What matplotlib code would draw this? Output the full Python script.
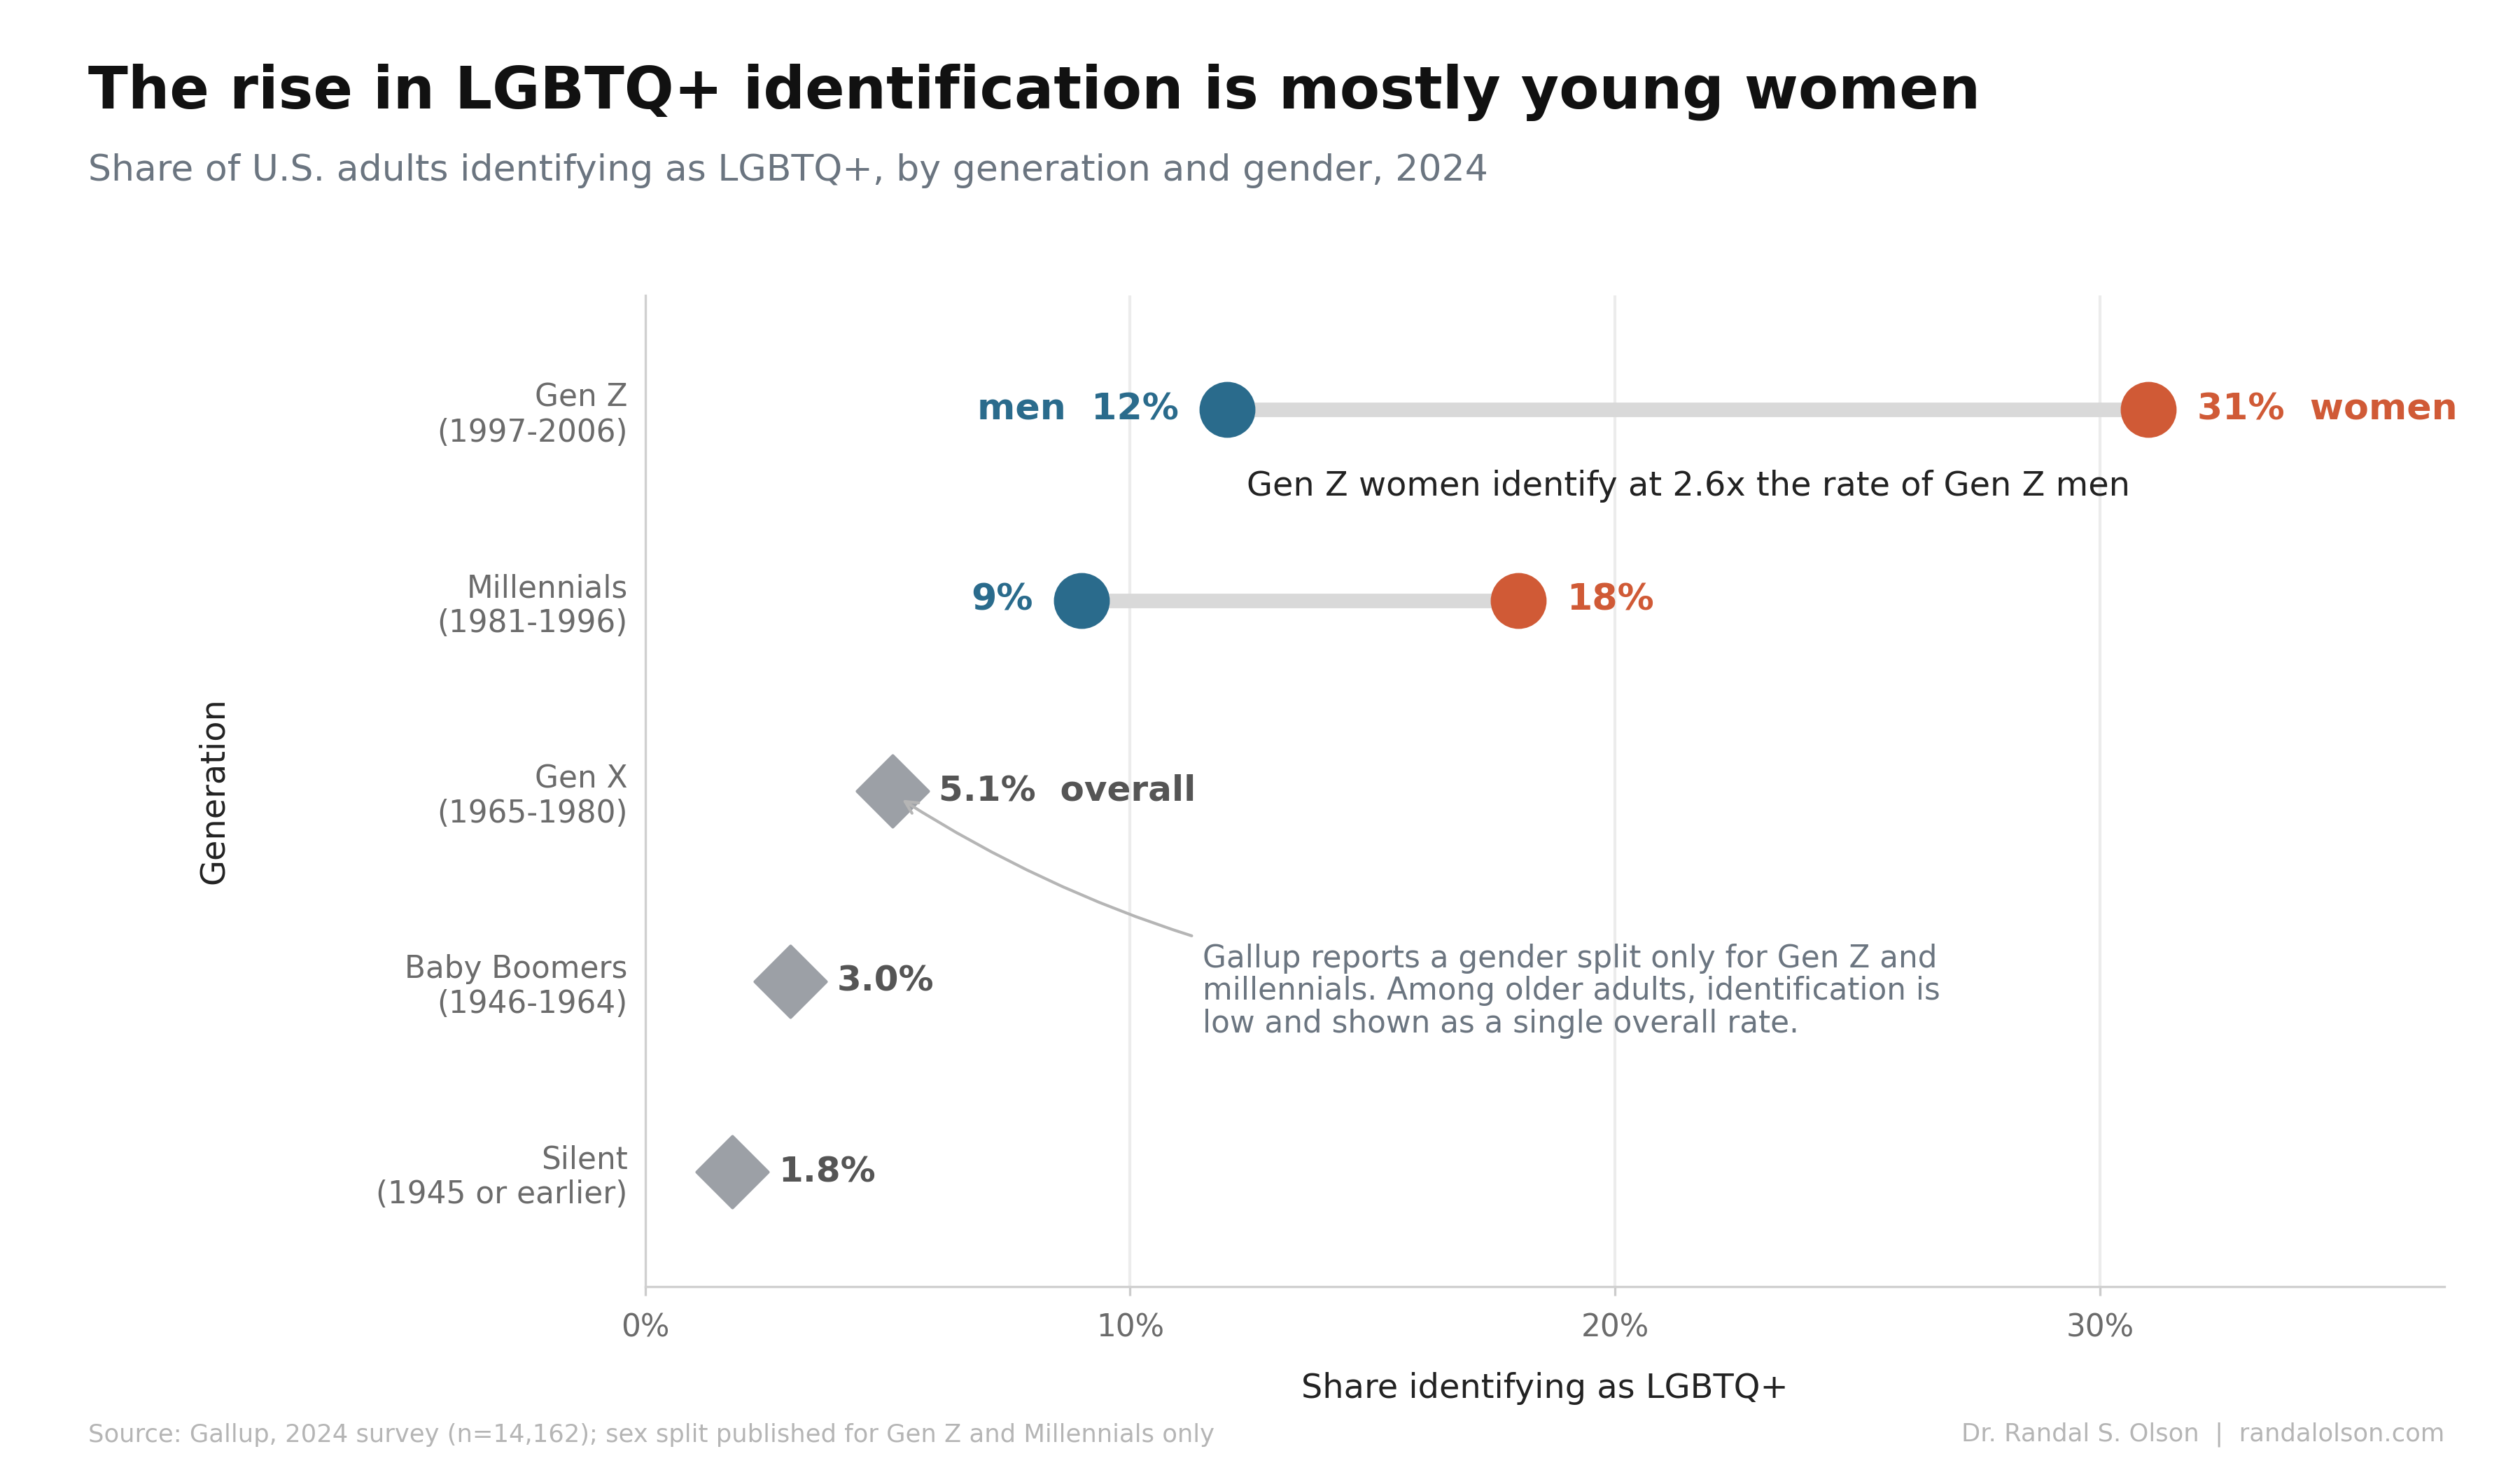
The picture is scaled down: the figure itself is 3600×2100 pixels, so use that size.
import matplotlib.pyplot as plt

plt.rcParams['font.family'] = 'DejaVu Sans'

generations = ["Gen Z\n(1997-2006)", "Millennials\n(1981-1996)", "Gen X\n(1965-1980)",
               "Baby Boomers\n(1946-1964)", "Silent\n(1945 or earlier)"]
men = [12, 9]
women = [31, 18]
overall_idx = [2, 3, 4]
overall = [5.1, 3.0, 1.8]

blue = '#2a6b8c'
orange = '#d05a36'
gray = '#9ca0a6'
dark = '#555555'

fig = plt.figure(figsize=(12, 7), dpi=300)
ax = fig.add_axes([0.256, 0.125, 0.714, 0.674])

for i, (m, w) in enumerate(zip(men, women)):
    ax.plot([m, w], [i, i], color='#d9d9d9', lw=5, zorder=1, solid_capstyle='butt')
    ax.scatter([m], [i], s=330, color=blue, zorder=3)
    ax.scatter([w], [i], s=330, color=orange, zorder=3)

ax.text(12 - 1.0, 0, "men  12%", color=blue, fontsize=12.5, fontweight='bold', ha='right', va='center')
ax.text(31 + 1.0, 0, "31%  women", color=orange, fontsize=12.5, fontweight='bold', ha='left', va='center')
ax.text(9 - 1.0, 1, "9%", color=blue, fontsize=12.5, fontweight='bold', ha='right', va='center')
ax.text(18 + 1.0, 1, "18%", color=orange, fontsize=12.5, fontweight='bold', ha='left', va='center')

ax.scatter(overall, overall_idx, s=300, marker='D', color=gray, zorder=3)
for k, (v, i) in enumerate(zip(overall, overall_idx)):
    lab = f"{v:.1f}%  overall" if k == 0 else f"{v:.1f}%"
    ax.text(v + 0.95, i, lab, color=dark, fontsize=12, fontweight='bold', ha='left', va='center')

ax.text(12.4, 0.4, "Gen Z women identify at 2.6x the rate of Gen Z men",
        fontsize=11.5, color='#222222', ha='left', va='center')

ax.annotate("Gallup reports a gender split only for Gen Z and\nmillennials. Among older adults, identification is\nlow and shown as a single overall rate.",
            xy=(5.2, 2.03), xytext=(11.5, 3.05), fontsize=10.5, color='#6b7580',
            ha='left', va='center', linespacing=1.1,
            arrowprops=dict(arrowstyle='->', color='#b5b5b5', lw=1,
                            connectionstyle='arc3,rad=-0.15', shrinkB=2))

ax.set_xlim(0, 37.1)
ax.set_ylim(4.6, -0.6)
ax.set_yticks(range(len(generations)))
ax.set_yticklabels(generations, fontsize=10.5, color='#6b6b6b')
ax.set_xticks([0, 10, 20, 30])
ax.set_xticklabels(["0%", "10%", "20%", "30%"], fontsize=10.5, color='#6b6b6b')
ax.tick_params(length=0, pad=6)
ax.tick_params(axis='x', length=3, color='#cccccc')
ax.grid(axis='x', color='#ececec', lw=1)
ax.set_axisbelow(True)
for s in ['top', 'right']:
    ax.spines[s].set_visible(False)
for s in ['left', 'bottom']:
    ax.spines[s].set_color('#d0d0d0')
ax.set_xlabel("Share identifying as LGBTQ+", fontsize=11.5, color='#222222', labelpad=10)
ax.set_ylabel("Generation", fontsize=11.5, color='#222222', labelpad=50)

fig.text(0.035, 0.937, "The rise in LGBTQ+ identification is mostly young women",
         fontsize=20, fontweight='bold', color='#111111', va='center')
fig.text(0.035, 0.884, "Share of U.S. adults identifying as LGBTQ+, by generation and gender, 2024",
         fontsize=12.5, color='#6b7580', va='center')
fig.text(0.035, 0.024, "Source: Gallup, 2024 survey (n=14,162); sex split published for Gen Z and Millennials only",
         fontsize=8.5, color='#b5b5b5', va='center')
fig.text(0.97, 0.024, "Dr. Randal S. Olson  |  randalolson.com",
         fontsize=8.5, color='#b5b5b5', va='center', ha='right')

fig.savefig("out.png", dpi=300)
